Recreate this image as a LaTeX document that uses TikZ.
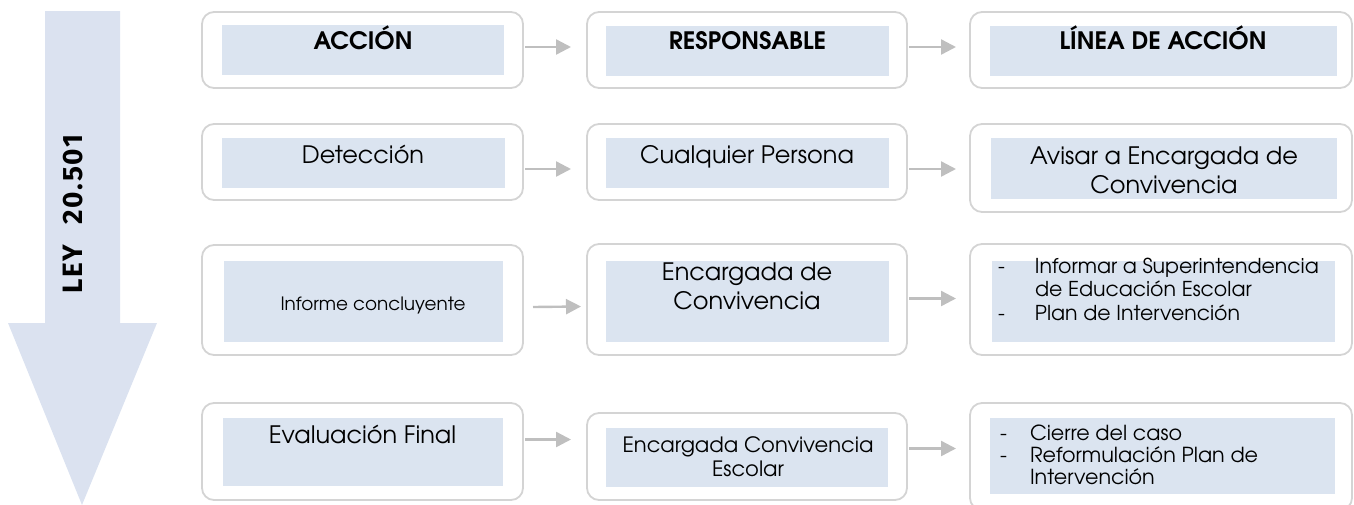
\documentclass[tikz,border=0pt]{standalone}
\usepackage{fontspec}
\setmainfont{texgyreadventor}[Extension=.otf, UprightFont=*-regular, BoldFont=*-bold]
\newfontfamily\leyfont{Fira Sans}[LetterSpace=6]
\usetikzlibrary{arrows.meta}
\definecolor{innerfill}{RGB}{219,228,240}
\definecolor{bigarrow}{RGB}{219,226,240}
\definecolor{boxgray}{RGB}{212,212,212}
\definecolor{conngray}{RGB}{191,191,191}
\newcommand\fsHead{\fontsize{24}{28}\selectfont\bfseries}
\newcommand\fsBig{\fontsize{24}{29}\selectfont}
\newcommand\fsMid{\fontsize{21.1}{24}\selectfont}
\newcommand\fsSmall{\fontsize{18.4}{22}\selectfont}
\begin{document}
\begin{tikzpicture}[x=1pt,y=-1pt,
  outer/.style={draw=boxgray, line width=1.8pt, rounded corners=12pt, fill=white, outer sep=0pt, inner sep=0pt},
  inner/.style={fill=innerfill, draw=none, inner sep=0pt, outer sep=0pt},
  txt/.style={inner sep=0pt, outer sep=0pt, text=black},
  conn/.style={draw=conngray, line width=2.4pt, -{Triangle[length=15pt,width=15pt]}, shorten >=-1pt}
]
\useasboundingbox (0,0) rectangle (1354,504);

% big down arrow
\fill[bigarrow] (45,11) -- (120,11) -- (120,323) -- (157,323) -- (82,505) -- (8,323) -- (45,323) -- cycle;
\node[txt, rotate=90] (ley) at (73,214) {\leyfont\fontsize{28}{30}\selectfont\bfseries LEY\hspace{20pt}20.501};

% ---------- Row 1 ----------
\node[outer, minimum width=321pt, minimum height=76pt] (o11) at (362.5,50) {};
\node[outer, minimum width=320pt, minimum height=76pt] (o12) at (747,50) {};
\node[outer, minimum width=382pt, minimum height=76pt] (o13) at (1161,50) {};
\node[inner, minimum width=282pt, minimum height=50pt] (i11) at (363,50) {};
\node[inner, minimum width=283pt, minimum height=50pt] (i12) at (747.5,51) {};
\node[inner, minimum width=347pt, minimum height=50pt] (i13) at (1163.5,51) {};
\node[txt, anchor=base] (t11) at (363,49) {\fsHead ACCIÓN};
\node[txt, anchor=base] (t12) at (747.5,49) {\fsHead RESPONSABLE};
\node[txt, anchor=base] (t13) at (1163,49) {\fsHead LÍNEA DE ACCIÓN};
\draw[conn] ([shift={(2,-3)}]o11.east) -- ([shift={(-17,-3)}]o12.west);
\draw[conn] ([shift={(2,-3)}]o12.east) -- ([shift={(-15,-3)}]o13.west);

% ---------- Row 2 ----------
\node[outer, minimum width=321pt, minimum height=76pt] (o21) at (362.5,162) {};
\node[outer, minimum width=320pt, minimum height=76pt] (o22) at (747,162) {};
\node[outer, minimum width=382pt, minimum height=88pt] (o23) at (1161,168) {};
\node[inner, minimum width=283pt, minimum height=50pt] (i21) at (363.5,163) {};
\node[inner, minimum width=283pt, minimum height=50pt] (i22) at (747.5,163) {};
\node[inner, minimum width=346pt, minimum height=61pt] (i23) at (1164,168.5) {};
\node[txt, anchor=base] (t21) at (363,163) {\fsBig Detección};
\node[txt, anchor=base] (t22) at (747,163) {\fsBig Cualquier Persona};
\node[txt, anchor=base] (t23) at (1164,164) {\fsBig\begin{tabular}[t]{@{}c@{}}Avisar a Encargada de\\Convivencia\end{tabular}};
\draw[conn] ([shift={(2,7)}]o21.east) -- ([shift={(-17,7)}]o22.west);
\draw[conn] ([shift={(2,7)}]o22.east) -- ([shift={(-15,1)}]o23.west);

% ---------- Row 3 ----------
\node[outer, minimum width=321pt, minimum height=110pt] (o31) at (362.5,300) {};
\node[outer, minimum width=320pt, minimum height=111pt] (o32) at (747,299.5) {};
\node[outer, minimum width=382pt, minimum height=111pt] (o33) at (1161,299.5) {};
\node[inner, minimum width=279pt, minimum height=81pt] (i31) at (363.5,301.5) {};
\node[inner, minimum width=283pt, minimum height=81pt] (i32) at (747.5,301.5) {};
\node[inner, minimum width=343pt, minimum height=81pt] (i33) at (1163.5,301.5) {};
\node[txt, anchor=base] (t31) at (373,310) {\fsSmall Informe concluyente};
\node[txt, anchor=base] (t32) at (747,280) {\fsBig\begin{tabular}[t]{@{}c@{}}Encargada de\\Convivencia\end{tabular}};
\node[txt, anchor=base west] (t33) at (998,273) {\fontsize{20.5}{23.5}\selectfont\begin{tabular}[t]{@{}p{37pt}@{}l@{}}-&Informar a Superintendencia\\&de Educación Escolar\\-&Plan de Intervención\end{tabular}};
\draw[conn] ([shift={(10,7)}]o31.east) -- ([shift={(-7,7)}]o32.west);
\draw[conn] ([shift={(2,-1)}]o32.east) -- ([shift={(-15,-1)}]o33.west);

% ---------- Row 4 ----------
\node[outer, minimum width=321pt, minimum height=97pt] (o41) at (362.5,451.5) {};
\node[outer, minimum width=320pt, minimum height=87pt] (o42) at (747,456.5) {};
\node[outer, minimum width=382pt, minimum height=107pt] (o43) at (1161,456.5) {};
\node[inner, minimum width=280pt, minimum height=68pt] (i41) at (363,452) {};
\node[inner, minimum width=282pt, minimum height=59pt] (i42) at (747,457.5) {};
\node[inner, minimum width=345pt, minimum height=76pt] (i43) at (1162.5,456) {};
\node[txt, anchor=base] (t41) at (362.5,443) {\fsBig Evaluación Final};
\node[txt, anchor=base] (t42) at (748,452) {\fsMid\begin{tabular}[t]{@{}c@{}}Encargada Convivencia\\Escolar\end{tabular}};
\node[txt, anchor=base west] (t43) at (1000,440) {\fontsize{20.7}{21}\selectfont\begin{tabular}[t]{@{}p{30pt}@{}l@{}}-&Cierre del caso\\-&Reformulación Plan de\\&Intervención\end{tabular}};
\draw[conn] ([shift={(2,-12)}]o41.east) -- ([shift={(-17,-17)}]o42.west);
\draw[conn] ([shift={(2,-8)}]o42.east) -- ([shift={(-15,-8)}]o43.west);
\end{tikzpicture}
\end{document}
